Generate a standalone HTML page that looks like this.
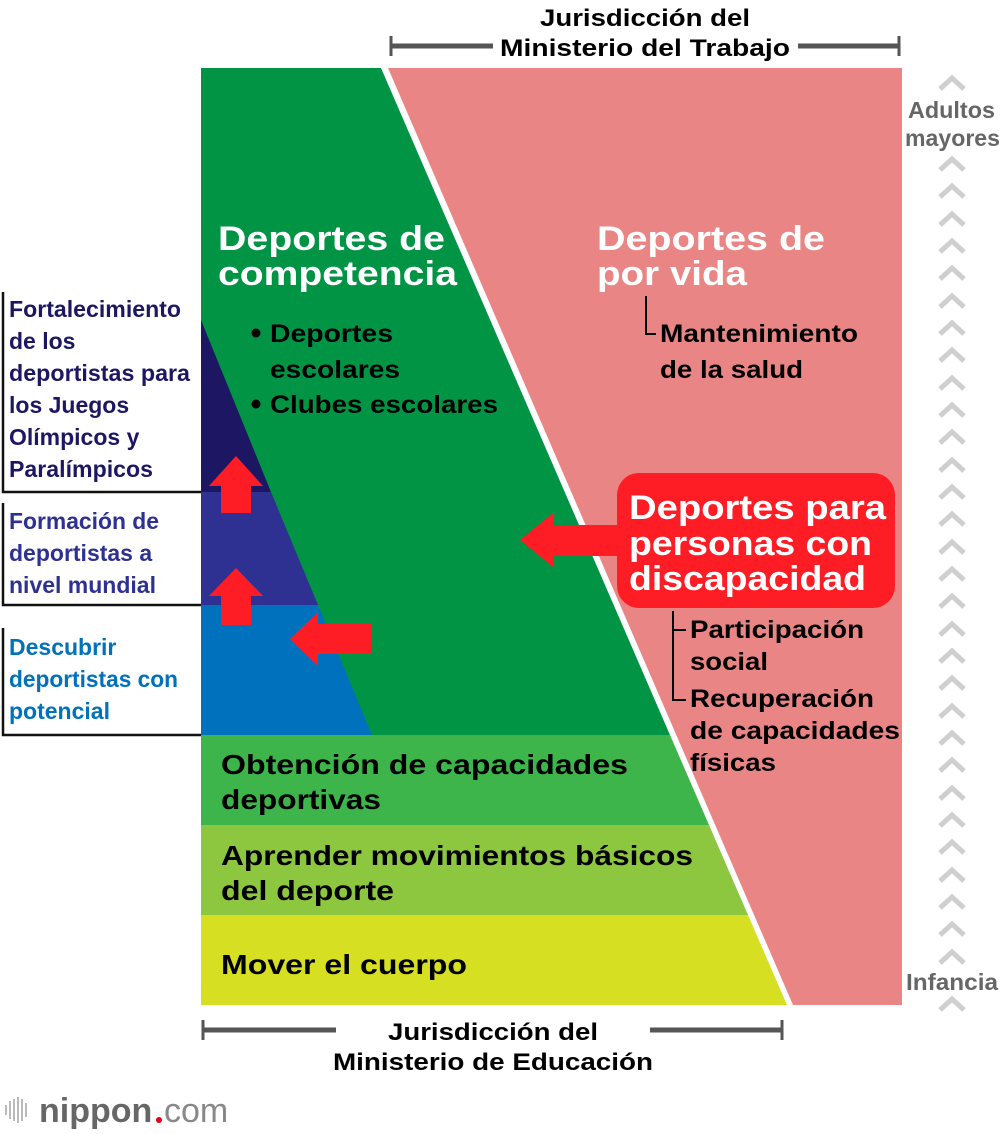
<!DOCTYPE html>
<html><head><meta charset="utf-8"><style>
body{margin:0;background:#fff}
svg{display:block}
text{font-family:"Liberation Sans",Arial,sans-serif;font-weight:bold}
</style></head><body>
<svg width="1000" height="1134" viewBox="0 0 1000 1134" xmlns="http://www.w3.org/2000/svg">
<defs>
<polyline id="chev" points="-12,7 0,-4 12,7" fill="none" stroke="#cfcfcf" stroke-width="5"/>
</defs>
<polygon points="388,68 902,68 902,1005 793,1005" fill="#e98685"/>
<polygon points="201,68 381,68 670,735 201,735" fill="#009444"/>
<polygon points="201,735 670,735 709,825 201,825" fill="#3db54a"/>
<polygon points="201,825 709,825 748,915 201,915" fill="#8dc63f"/>
<polygon points="201,915 748,915 787,1005 201,1005" fill="#d7df23"/>
<polygon points="201,320 271,492 201,492" fill="#1d1763"/>
<polygon points="201,492 271,492 318,605 201,605" fill="#2e3192"/>
<polygon points="201,605 318,605 372,735 201,735" fill="#0071bc"/>
<g stroke="#111" stroke-width="2.5" fill="none">
<polyline points="3,292 3,492 201,492"/>
<polyline points="3,503 3,605 201,605"/>
<polyline points="3,628 3,735 201,735"/>
</g>
<g font-size="23" fill="#1d1763" lengthAdjust="spacingAndGlyphs">
<text x="9" y="317" textLength="172" lengthAdjust="spacingAndGlyphs">Fortalecimiento</text>
<text x="9" y="349">de los</text>
<text x="9" y="381" textLength="181" lengthAdjust="spacingAndGlyphs">deportistas para</text>
<text x="9" y="413">los Juegos</text>
<text x="9" y="445">Olímpicos y</text>
<text x="9" y="477" textLength="144" lengthAdjust="spacingAndGlyphs">Paralímpicos</text>
</g>
<g font-size="23" fill="#2e3192">
<text x="9" y="529" textLength="150" lengthAdjust="spacingAndGlyphs">Formación de</text>
<text x="9" y="561">deportistas a</text>
<text x="9" y="593">nivel mundial</text>
</g>
<g font-size="23" fill="#0071bc">
<text x="9" y="655">Descubrir</text>
<text x="9" y="687" textLength="169" lengthAdjust="spacingAndGlyphs">deportistas con</text>
<text x="9" y="719">potencial</text>
</g>
<g fill="#ff1d25">
<polygon points="236,456 263,486 251,486 251,513 221,513 221,486 209,486"/>
<polygon points="236,568 263,596 251,596 251,625 221,625 221,596 209,596"/>
<polygon points="290,639 318,612 318,624 371,624 371,654 318,654 318,666"/>
<polygon points="520,540 553,513 553,525 630,525 630,556 553,556 553,567"/>
<rect x="617" y="473" width="278" height="135" rx="22"/>
</g>
<g font-size="34" fill="#fff">
<text x="218" y="250" textLength="227" lengthAdjust="spacingAndGlyphs">Deportes de</text>
<text x="218" y="285" textLength="239" lengthAdjust="spacingAndGlyphs">competencia</text>
<text x="597" y="250" textLength="228" lengthAdjust="spacingAndGlyphs">Deportes de</text>
<text x="597" y="285" textLength="150" lengthAdjust="spacingAndGlyphs">por vida</text>
</g>
<g font-size="25" fill="#000">
<circle cx="256" cy="333" r="4.5"/>
<text x="270" y="342" textLength="123" lengthAdjust="spacingAndGlyphs">Deportes</text>
<text x="270" y="378" textLength="130" lengthAdjust="spacingAndGlyphs">escolares</text>
<circle cx="256" cy="404" r="4.5"/>
<text x="270" y="413" textLength="228" lengthAdjust="spacingAndGlyphs">Clubes escolares</text>
<text x="660" y="342" textLength="198" lengthAdjust="spacingAndGlyphs">Mantenimiento</text>
<text x="660" y="378" textLength="143" lengthAdjust="spacingAndGlyphs">de la salud</text>
<text x="690" y="638" textLength="174" lengthAdjust="spacingAndGlyphs">Participación</text>
<text x="690" y="670" textLength="78" lengthAdjust="spacingAndGlyphs">social</text>
<text x="690" y="707" textLength="184" lengthAdjust="spacingAndGlyphs">Recuperación</text>
<text x="690" y="739" textLength="210" lengthAdjust="spacingAndGlyphs">de capacidades</text>
<text x="690" y="771" textLength="86" lengthAdjust="spacingAndGlyphs">físicas</text>
<text x="221" y="774" font-size="28" textLength="407" lengthAdjust="spacingAndGlyphs">Obtención de capacidades</text>
<text x="221" y="809" font-size="28" textLength="160" lengthAdjust="spacingAndGlyphs">deportivas</text>
<text x="221" y="865" font-size="28" textLength="472" lengthAdjust="spacingAndGlyphs">Aprender movimientos básicos</text>
<text x="221" y="900" font-size="28" textLength="173" lengthAdjust="spacingAndGlyphs">del deporte</text>
<text x="221" y="974" font-size="28" textLength="246" lengthAdjust="spacingAndGlyphs">Mover el cuerpo</text>
</g>
<g stroke="#000" stroke-width="2" fill="none">
<polyline points="646,296 646,334 656,334"/>
<polyline points="673,611 673,700 686,700"/>
<line x1="673" y1="630" x2="686" y2="630"/>
</g>
<g font-size="34" fill="#fff">
<text x="629" y="519" textLength="257" lengthAdjust="spacingAndGlyphs">Deportes para</text>
<text x="629" y="555" textLength="243" lengthAdjust="spacingAndGlyphs">personas con</text>
<text x="629" y="590" textLength="237" lengthAdjust="spacingAndGlyphs">discapacidad</text>
</g>
<g>
<use href="#chev" x="952" y="82"/><use href="#chev" x="952" y="163"/><use href="#chev" x="952" y="190"/><use href="#chev" x="952" y="218"/><use href="#chev" x="952" y="245"/><use href="#chev" x="952" y="272"/><use href="#chev" x="952" y="300"/><use href="#chev" x="952" y="327"/><use href="#chev" x="952" y="354"/><use href="#chev" x="952" y="382"/><use href="#chev" x="952" y="409"/><use href="#chev" x="952" y="436"/><use href="#chev" x="952" y="464"/><use href="#chev" x="952" y="491"/><use href="#chev" x="952" y="518"/><use href="#chev" x="952" y="546"/><use href="#chev" x="952" y="573"/><use href="#chev" x="952" y="600"/><use href="#chev" x="952" y="628"/><use href="#chev" x="952" y="655"/><use href="#chev" x="952" y="682"/><use href="#chev" x="952" y="710"/><use href="#chev" x="952" y="737"/><use href="#chev" x="952" y="764"/><use href="#chev" x="952" y="792"/><use href="#chev" x="952" y="819"/><use href="#chev" x="952" y="846"/><use href="#chev" x="952" y="874"/><use href="#chev" x="952" y="901"/><use href="#chev" x="952" y="928"/><use href="#chev" x="952" y="956"/><use href="#chev" x="952" y="1003"/>
</g>
<g font-size="23" fill="#666">
<text x="908" y="118" textLength="87" lengthAdjust="spacingAndGlyphs">Adultos</text>
<text x="905" y="146" textLength="95" lengthAdjust="spacingAndGlyphs">mayores</text>
<text x="906" y="990" textLength="92" lengthAdjust="spacingAndGlyphs">Infancia</text>
</g>
<g stroke="#555" stroke-width="5">
<line x1="390" y1="46" x2="493" y2="46"/><line x1="798" y1="46" x2="900" y2="46"/>
<line x1="391" y1="36" x2="391" y2="56" stroke-width="3"/><line x1="899" y1="36" x2="899" y2="56" stroke-width="3"/>
<line x1="202" y1="1030" x2="336" y2="1030"/><line x1="650" y1="1030" x2="783" y2="1030"/>
<line x1="203" y1="1020" x2="203" y2="1040" stroke-width="3"/><line x1="782" y1="1020" x2="782" y2="1040" stroke-width="3"/>
</g>
<g font-size="24" fill="#000">
<text x="540" y="26" textLength="210" lengthAdjust="spacingAndGlyphs">Jurisdicción del</text>
<text x="500" y="56" textLength="290" lengthAdjust="spacingAndGlyphs">Ministerio del Trabajo</text>
<text x="388" y="1040" textLength="210" lengthAdjust="spacingAndGlyphs">Jurisdicción del</text>
<text x="333" y="1070" textLength="320" lengthAdjust="spacingAndGlyphs">Ministerio de Educación</text>
</g>
<g stroke="#bbb" stroke-width="2">
<line x1="6" y1="1105" x2="6" y2="1115"/><line x1="10" y1="1101" x2="10" y2="1119"/><line x1="14" y1="1099" x2="14" y2="1121"/><line x1="18" y1="1097" x2="18" y2="1123"/><line x1="22" y1="1099" x2="22" y2="1121"/><line x1="26" y1="1103" x2="26" y2="1117"/>
</g>
<text x="39" y="1122" font-size="34" fill="#666" font-weight="bold">nippon</text>
<circle cx="159" cy="1120" r="3" fill="#e60012"/>
<text x="164" y="1122" font-size="34" fill="#888" style="font-weight:normal">com</text>
</svg>
</body></html>
